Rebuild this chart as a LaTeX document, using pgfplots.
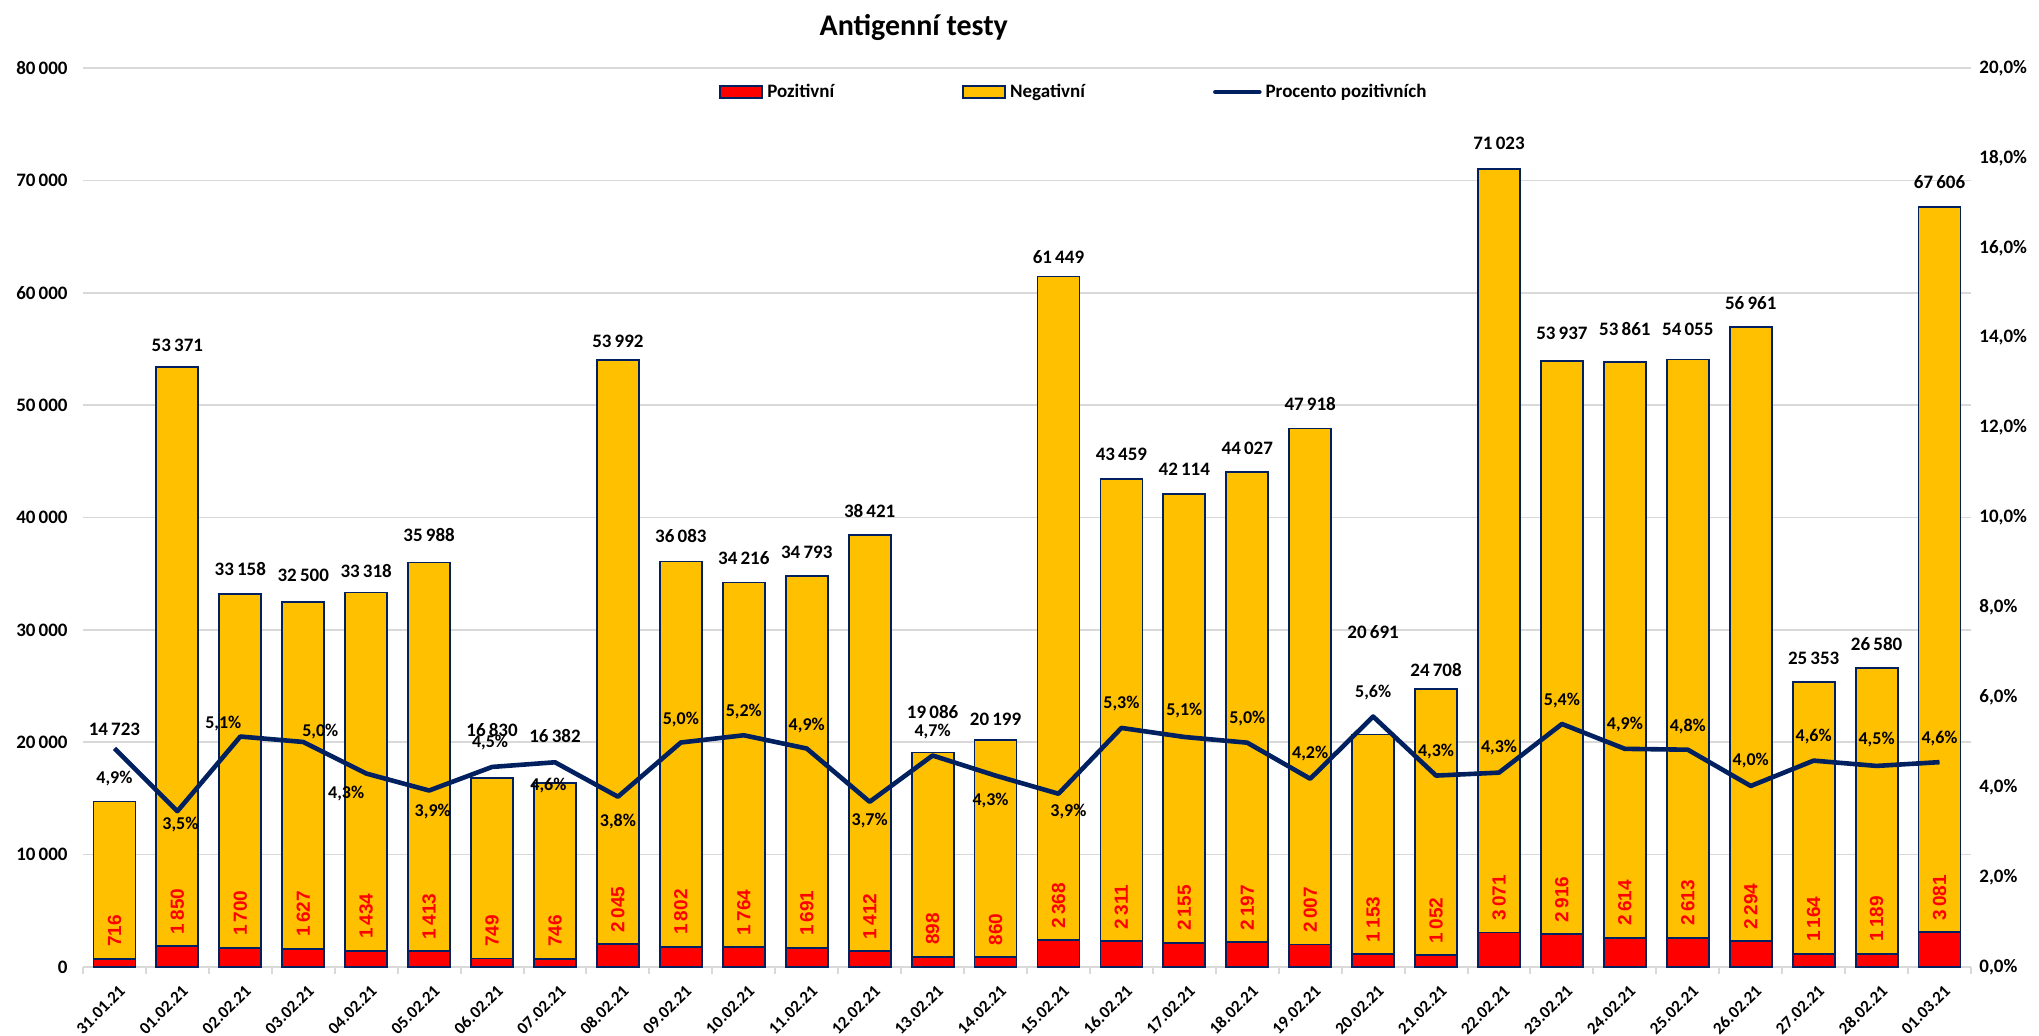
\documentclass[border=0pt]{standalone}
\usepackage{pgfplots}
\pgfplotsset{compat=1.18}
\usepackage{pgfplotstable}
\usepackage{fontspec}
\setmainfont{Carlito}
\newfontfamily\redfont{Liberation Sans}
\definecolor{gold}{HTML}{FFC000}
\definecolor{navy}{HTML}{002060}
\definecolor{gridc}{HTML}{D9D9D9}
\pgfplotsset{/pgf/number format/assume math mode=true}
\pgfplotsset{
  barleg/.style={legend image code/.code={\draw[##1] (0pt,-3pt) rectangle (21pt,3pt);}},
  lineleg/.style={legend image code/.code={\draw[##1] (0pt,0pt) -- (22pt,0pt);}},
}

\pgfplotstableread{
x pos neg tot pct tdy pdy pdx
0 716 14007 14723 4.863 36 -15 0
1 1850 51521 53371 3.466 11 -6.5 1.5
2 1700 31458 33158 5.127 12.5 6.5 -8.5
3 1627 30873 32500 5.006 13 5 8.5
4 1434 31884 33318 4.304 11 -10 -10
5 1413 34575 35988 3.926 14 -10.5 1.8
6 749 16081 16830 4.4504 24 12 -1
7 746 15636 16382 4.554 23.5 -11.5 -3.3
8 2045 51947 53992 3.788 9.5 -12.5 0
9 1802 34281 36083 4.994 12.5 11.5 0
10 1764 32452 34216 5.155 12 12 0
11 1691 33102 34793 4.860 12 11.5 0
12 1412 37009 38421 3.675 12 -9.5 0
13 898 18188 19086 4.705 20 12 0
14 860 19339 20199 4.258 10.5 -12.5 -2.5
15 2368 59081 61449 3.854 9.5 -9 5
16 2311 41148 43459 5.318 12 12 0
17 2155 39959 42114 5.117 12 13 0
18 2197 41830 44027 4.990 12 12 0
19 2007 45911 47918 4.188 12 12.5 0
20 1153 19538 20691 5.572 51 12 0
21 1052 23656 24708 4.258 9.5 12 0
22 3071 67952 71023 4.324 13 12.5 0
23 2916 51021 53937 5.406 14 11.5 0
24 2614 51247 53861 4.853 16.5 12 0
25 2613 51442 54055 4.834 15 11.5 0
26 2294 54667 56961 4.027 12 12.5 0
27 1164 24189 25353 4.591 12 12 0
28 1189 25391 26580 4.473 12 13 0
29 3081 64525 67606 4.557 12.5 12 0
}\data

\pgfplotsset{base/.style={scale only axis, width=944pt, height=449.5pt,
  xmin=-0.5, xmax=29.5, clip=false, at={(0,0)}, anchor=south west,
  enlargelimits=false}}

\newcommand\lblfont{\fontsize{9.5}{11}\selectfont\bfseries}

\begin{document}
\begin{tikzpicture}
\begin{axis}[base, ybar stacked, bar width=21pt,
  ymin=0, ymax=80000, ytick={0,10000,...,80000},
  scaled y ticks=false,
  ymajorgrids, grid style={gridc, line width=0.8pt},
  axis x line*=bottom, axis y line*=left,
  y axis line style={draw=none},
  x axis line style={gridc, line width=1pt},
  xtick={0,...,29},
  xticklabels={31.01.21,01.02.21,02.02.21,03.02.21,04.02.21,05.02.21,06.02.21,07.02.21,08.02.21,09.02.21,10.02.21,11.02.21,12.02.21,13.02.21,14.02.21,15.02.21,16.02.21,17.02.21,18.02.21,19.02.21,20.02.21,21.02.21,22.02.21,23.02.21,24.02.21,25.02.21,26.02.21,27.02.21,28.02.21,01.03.21},
  major tick length=0pt,
  major x tick style={draw=none}, ytick style={draw=none},
  minor xtick={-0.5,0.5,...,29.5},
  minor x tick style={gridc, line width=1pt},
  minor tick length=3.5pt, tick align=outside,
  xticklabel style={xshift=4pt, rotate=45, anchor=east, inner sep=0pt, font=\fontsize{8.5}{10}\selectfont\bfseries},
  xticklabel shift=10.5pt,
  yticklabel style={inner sep=0pt, anchor=east, font=\lblfont},
  yticklabel shift=7.5pt,
  yticklabel={\pgfmathprintnumber[fixed,precision=0,1000 sep={\,}]{\tick}},
  title={Antigenní testy},
  title style={at={(0.440,1)}, anchor=base, yshift=10pt, inner sep=0pt,
    font=\fontsize{15}{17}\selectfont\bfseries},
  legend style={at={(0.3369,0.9733)}, anchor=west, draw=none, fill=none,
    inner sep=0pt, font=\lblfont, legend columns=3,
    /tikz/every even column/.append style={column sep=62pt}},
  legend cell align=left,
]
\addplot[fill=red, draw=navy, line width=0.9pt, barleg]
  table[x=x, y=pos]{\data};
\addlegendentry{Pozitivní}
\addplot[fill=gold, draw=navy, line width=0.9pt, barleg]
  table[x=x, y=neg]{\data};
\addlegendentry{Negativní}
\addlegendimage{navy, line width=2.3pt, line cap=round, lineleg}
\addlegendentry{Procento pozitivních}
\end{axis}

\begin{axis}[base, hide axis, ymin=0, ymax=80000]
\addplot[only marks, mark=*, mark size=0pt, mark options={draw=none, fill=none},
  point meta=explicit,
  nodes near coords={\pgfmathprintnumber[fixed,precision=0,1000 sep={\,}]{\pgfplotspointmeta}},
  every node near coord/.append style={rotate=90, anchor=west, inner sep=0pt,
    outer xsep=6pt, text=red, font=\fontsize{9.5}{11}\selectfont\redfont\bfseries}]
  table[x=x, y=pos, meta=pos]{\data};
\addplot[only marks, mark=*, mark size=0pt, mark options={draw=none, fill=none},
  point meta=explicit,
  visualization depends on={\thisrow{tdy} \as \tdy},
  nodes near coords={\pgfmathprintnumber[fixed,precision=0,1000 sep={\,}]{\pgfplotspointmeta}},
  every node near coord/.append style={anchor=center, inner sep=0pt,
    yshift=\tdy*1pt, text=black, font=\lblfont}]
  table[x=x, y=tot, meta=tot]{\data};
\end{axis}

\begin{axis}[base, ymin=0, ymax=20,
  axis x line=none, xtick=\empty,
  axis y line*=right, y axis line style={draw=none},
  ytick={0,2,...,20}, ytick style={draw=none}, major tick length=0pt,
  yticklabel={\pgfmathprintnumber[fixed,fixed zerofill,precision=1,use comma]{\tick}\%},
  yticklabel style={inner sep=0pt, anchor=west, font=\lblfont},
  yticklabel shift=4pt]
\addplot[navy, line width=2.3pt, mark=none, line join=round]
  table[x=x, y=pct]{\data};
\addplot[only marks, mark=*, mark size=0pt, mark options={draw=none, fill=none},
  point meta=explicit,
  visualization depends on={\thisrow{pdy} \as \pdy},
  visualization depends on={\thisrow{pdx} \as \pdx},
  nodes near coords={\pgfmathprintnumber[fixed,fixed zerofill,precision=1,use comma]{\pgfplotspointmeta}\%},
  every node near coord/.append style={anchor=center, inner sep=0pt,
    xshift=\pdx*1pt, yshift=\pdy*1pt, text=black,
    font=\fontsize{9}{10}\selectfont\bfseries}]
  table[x=x, y=pct, meta=pct]{\data};
\end{axis}
\pgfresetboundingbox
\path (-41.5pt,-34.5pt) rectangle (978pt,483.5pt);
\end{tikzpicture}
\end{document}
